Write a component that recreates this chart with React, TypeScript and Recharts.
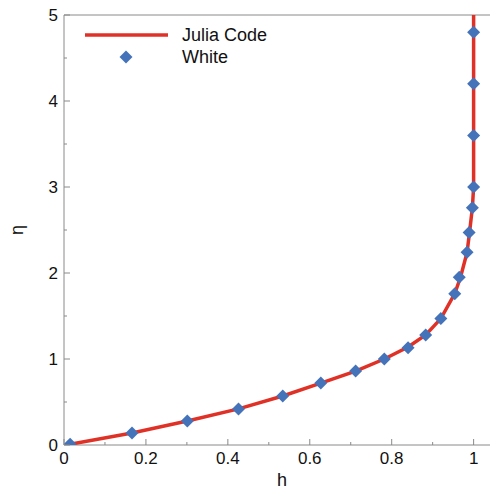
import React from "react";
import {
  ScatterChart,
  Scatter,
  XAxis,
  YAxis,
  Label,
  Legend,
  ReferenceLine,
} from "recharts";

// Julia Code solution (red curve)
const juliaH = [0.005, 0.166, 0.301, 0.426, 0.534, 0.627, 0.712, 0.782, 0.84, 0.883, 0.92, 0.954, 0.968, 0.984, 0.99, 0.997, 1.0, 1.0];
const juliaEta = [0, 0.14, 0.28, 0.42, 0.57, 0.72, 0.86, 1.0, 1.14, 1.28, 1.47, 1.76, 1.95, 2.24, 2.47, 2.76, 3.0, 5.0];

// White reference values (diamonds)
const whiteH = [0.015, 0.166, 0.301, 0.426, 0.534, 0.627, 0.712, 0.782, 0.84, 0.883, 0.92, 0.954, 0.965, 0.984, 0.989, 0.997, 1.0, 1.0, 1.0, 1.0];
const whiteEta = [0.01, 0.14, 0.28, 0.42, 0.57, 0.72, 0.86, 1.0, 1.13, 1.28, 1.47, 1.76, 1.95, 2.24, 2.47, 2.76, 3.0, 3.6, 4.2, 4.8];

const xTicks = [0, 0.1, 0.2, 0.3, 0.4, 0.5, 0.6, 0.7, 0.8, 0.9, 1.0];
const yTicks = [0, 0.5, 1, 1.5, 2, 2.5, 3, 3.5, 4, 4.5, 5];

const RED = "#e03127";
const BLUE = "#4473ba";
const AXIS = "#8a8a8a";
const FONT = "'Liberation Sans', Arial, sans-serif";

const juliaData = juliaH.map((h, i) => ({ h, eta: juliaEta[i] }));
const whiteData = whiteH.map((h, i) => ({ h, eta: whiteEta[i] }));

function XTick(props: any) {
  const { x, y, payload } = props;
  const major = Math.round(payload.value * 10) % 2 === 0;
  return (
    <g>
      <line x1={x} x2={x} y1={y} y2={y - (major ? 6 : 3)} stroke={AXIS} />
      {major && (
        <text x={x} y={y + 19} textAnchor="middle" fontSize={17} fontFamily={FONT} fill="#111">
          {String(Math.round(payload.value * 10) / 10)}
        </text>
      )}
    </g>
  );
}

function YTick(props: any) {
  const { x, y, payload } = props;
  const major = Number.isInteger(payload.value);
  return (
    <g>
      <line x1={x} x2={x + (major ? 6 : 3)} y1={y} y2={y} stroke={AXIS} />
      {major && (
        <text x={x - 6} y={y} dy="0.36em" textAnchor="end" fontSize={17} fontFamily={FONT} fill="#111">
          {String(payload.value)}
        </text>
      )}
    </g>
  );
}

function Diamond(props: any) {
  const { cx, cy } = props;
  const r = 6.5;
  return (
    <polygon
      points={`${cx},${cy - r} ${cx + r},${cy} ${cx},${cy + r} ${cx - r},${cy}`}
      fill={BLUE}
    />
  );
}

function LegendBox() {
  return (
    <svg width={300} height={75} style={{ display: "block" }}>
      <line x1={85} x2={168} y1={35} y2={35} stroke={RED} strokeWidth={3.5} />
      <text x={182} y={35} dy="0.36em" fontSize={18} fontFamily={FONT} fill="#111">
        Julia Code
      </text>
      <polygon points="126,50.5 132.5,57 126,63.5 119.5,57" fill={BLUE} />
      <text x={182} y={57} dy="0.36em" fontSize={18} fontFamily={FONT} fill="#111">
        White
      </text>
    </svg>
  );
}

export default function App() {
  return (
    <div style={{ position: "absolute", left: 0, top: 0, background: "#fff" }}>
      <ScatterChart width={490} height={494} margin={{ top: 15, right: 0, bottom: 19, left: 0 }}>
        <XAxis
          type="number"
          dataKey="h"
          domain={[0, 1.04]}
          allowDataOverflow
          ticks={xTicks}
          interval={0}
          tickSize={0}
          tickMargin={0}
          tick={<XTick />}
          stroke={AXIS}
          height={30}
        >
          <Label value="h" position="bottom" offset={-2} dx={5} fontSize={18} fontFamily={FONT} fill="#111" />
        </XAxis>
        <YAxis
          type="number"
          dataKey="eta"
          domain={[0, 5]}
          allowDataOverflow
          ticks={yTicks}
          interval={0}
          tickSize={0}
          tickMargin={0}
          tick={<YTick />}
          stroke={AXIS}
          width={64}
        >
          <Label value="η" position="center" angle={-90} dx={-15} fontSize={18} fontFamily={FONT} fill="#111" />
        </YAxis>
        <ReferenceLine y={5} stroke={AXIS} />
        <Legend
          layout="vertical"
          align="center"
          verticalAlign="middle"
          wrapperStyle={{ top: 0, left: 0, width: 300, height: 75 }}
          content={() => <LegendBox />}
        />
        <Scatter
          name="Julia Code"
          data={juliaData}
          line={{ stroke: RED, strokeWidth: 3.5 }}
          lineType="joint"
          shape={() => <g />}
          isAnimationActive={false}
        />
        <Scatter
          name="White"
          data={whiteData}
          shape={<Diamond />}
          isAnimationActive={false}
        />
      </ScatterChart>
    </div>
  );
}
